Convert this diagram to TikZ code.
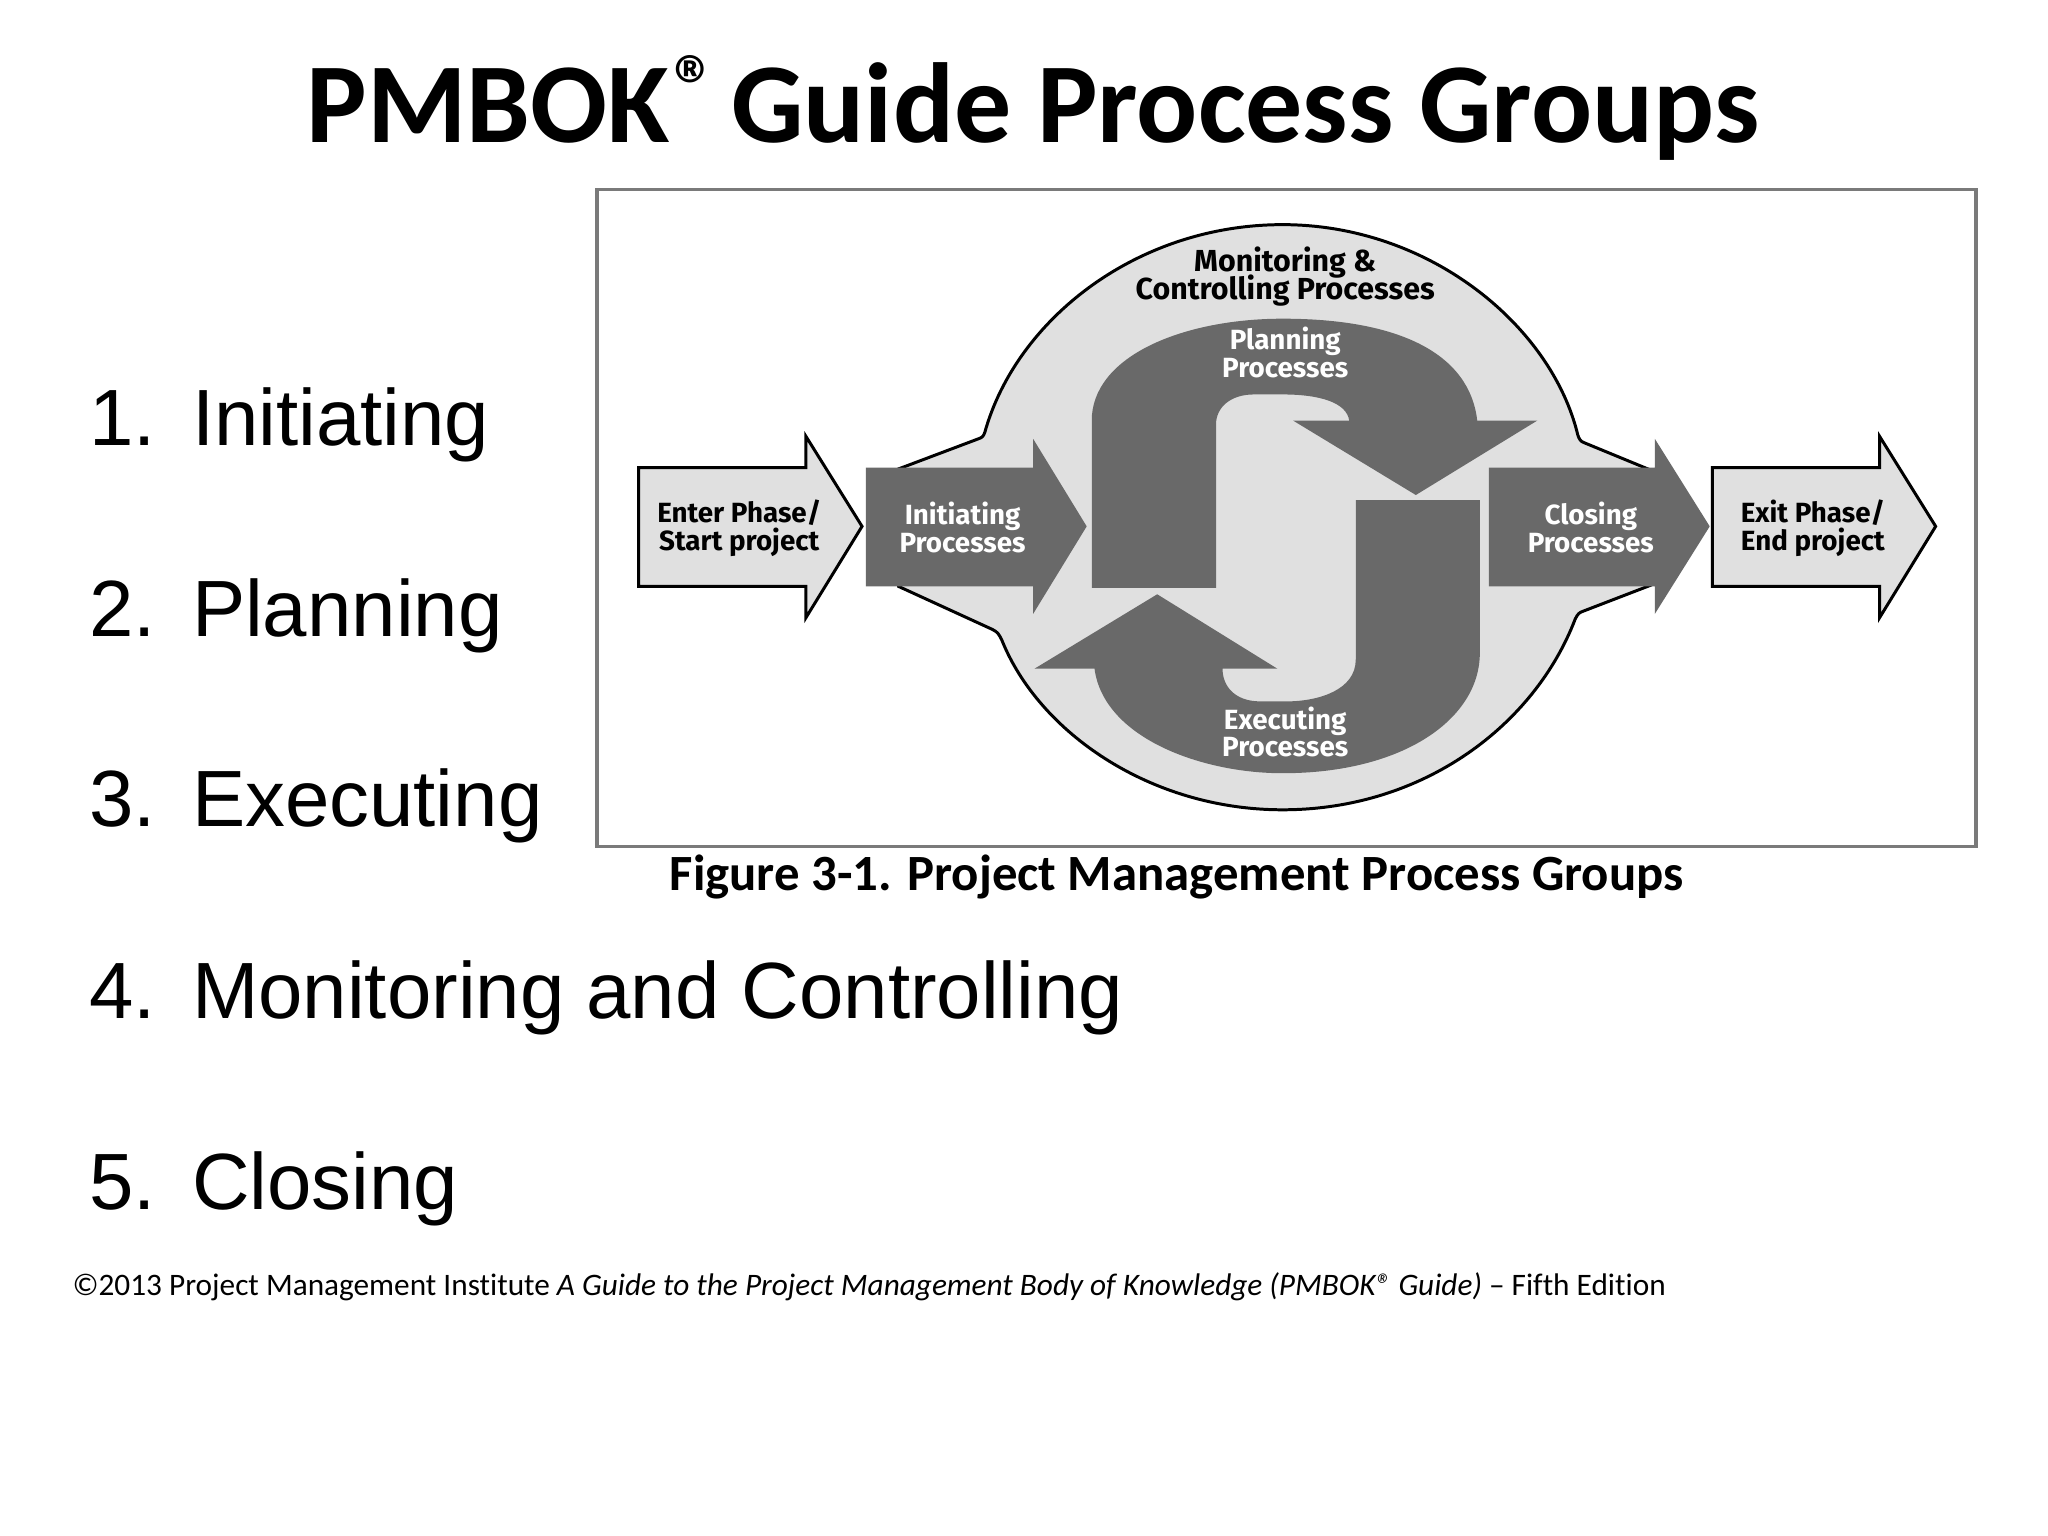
\documentclass[tikz,border=0pt]{standalone}
\usepackage{fontspec}
\setmainfont{Liberation Sans}
\newfontfamily\carl{Carlito}[RawFeature={-liga}]
\newfontfamily\figfont{Fira Sans}[BoldFont={Fira Sans Bold}]
\definecolor{pale}{HTML}{E0E0E0}
\definecolor{dark}{HTML}{696969}
\definecolor{framec}{HTML}{7A7A7A}
\tikzset{
  x=0.013061cm,y=-0.013061cm,
  outl/.style={draw=black,line width=0.85pt,fill=pale,line join=miter},
  darkarrow/.style={fill=dark,draw=none},
  lbl/.style={inner sep=0pt,align=center,font=\figfont\bfseries\fontsize{7.9}{7.9}\selectfont},
  lblk/.style={lbl,text=black},
  lblw/.style={lbl,text=white},
  lblbig/.style={inner sep=0pt,anchor=base,text=black,font=\figfont\bfseries\fontsize{8.65}{9}\selectfont},
  listitem/.style={inner sep=0pt,anchor=base west,font=\fontsize{22.7}{28}\selectfont},
}
\begin{document}
\begin{tikzpicture}
\useasboundingbox (0,0) rectangle (1568,1176);
\fill[white] (0,0) rectangle (1568,1176);
% title
\node[inner sep=0pt,anchor=base] (title) at (791,109) {\carl\bfseries\fontsize{32.4}{36}\selectfont PMBOK\hspace{1.2pt}\raisebox{7.8pt}{\fontsize{24}{24}\selectfont ®}\hspace{-0.1em} Guide Process Groups};
% frame
\draw[framec,line width=1pt] (457,145) rectangle (1513,648);
% blob
\draw[outl] (688,359) -- (749,336) .. controls (752,335) and (753,334) .. (754,331) .. controls (778,245) and (870,172) .. (982,172)
  .. controls (1095,172) and (1188,250) .. (1208,333) .. controls (1209,336) and (1210,338) .. (1213,339) -- (1264,360)
  -- (1264,448) -- (1212,468) .. controls (1209,469) and (1208,470) .. (1206,474) .. controls (1175,555) and (1090,620) .. (982,620)
  .. controls (880,620) and (795,560) .. (767,490) .. controls (765,486) and (764,484) .. (760,482) -- (688,449) -- cycle;
% grey arrows
\draw[outl] (489,358) -- (617,358) -- (617,334) -- (660,403) -- (617,473) -- (617,449) -- (489,449) -- cycle;
\draw[outl] (1311,358) -- (1439,358) -- (1439,334) -- (1482,403) -- (1439,473) -- (1439,449) -- (1311,449) -- cycle;
\fill[darkarrow] (663,358) -- (791,358) -- (791,336) -- (832,403) -- (791,470) -- (791,449) -- (663,449) -- cycle;
\fill[darkarrow] (1140,358) -- (1267,358) -- (1267,336) -- (1309,403) -- (1267,470) -- (1267,449) -- (1140,449) -- cycle;
% planning
\fill[darkarrow] (836,450) -- (836,318) .. controls (840,270) and (910,244) .. (982,244)
  .. controls (1070,244) and (1125,270) .. (1131,322) -- (1177,322) -- (1084,379) -- (990,322)
  -- (1033,322) .. controls (1031,308) and (1010,302) .. (982,302) -- (960,302) .. controls (942,302) and (931,312) .. (931,325) -- (931,450) -- cycle;
% executing
\fill[darkarrow] (1133,383) -- (1038,383) -- (1038,505) .. controls (1038,528) and (1010,537) .. (985,537)
  -- (965,537) .. controls (945,537) and (936,525) .. (936,512) -- (978,512) -- (886,455) -- (792,512) -- (838,512)
  .. controls (845,565) and (920,592) .. (982,592) .. controls (1075,592) and (1133,550) .. (1133,500) -- cycle;
% diagram labels
\node[lblk] (enter) at (566,404.5) {Enter Phase/\\Start project};
\node[lblk] (exit) at (1388,404.5) {Exit Phase/\\End project};
\node[lblw] (init) at (737,404) {Initiating\\Processes};
\node[lblw] (clos) at (1218,404) {Closing\\Processes};
\node[lblw] (plan) at (984,270) {Planning\\Processes};
\node[lblw] (exec) at (984,560.5) {Executing\\Processes};
\node[lblbig] (mona) at (984,208) {Monitoring \&};
\node[lblbig] (monb) at (984,229) {Controlling Processes};
% caption
\node[inner sep=0pt,anchor=base] (cap) at (901,682) {\carl\bfseries\fontsize{14.45}{16}\selectfont Figure 3-1. Project Management Process Groups};
% list
\foreach \n/\t/\yy in {1/Initiating/341,2/Planning/487,3/Executing/633,4/Monitoring and Controlling/780,5/Closing/926}{
  \node[listitem] (n\n) at (68,\yy) {\n.};
  \node[listitem] (t\n) at (146.5,\yy) {\t};
}
% credit
\node[inner sep=0pt,anchor=base west] (credit) at (55,992) {\carl\fontsize{8.9}{11}\selectfont ©2013 Project Management Institute \textit{A Guide to the Project Management Body of Knowledge (PMBOK® Guide)} – Fifth Edition};
\end{tikzpicture}
\end{document}
